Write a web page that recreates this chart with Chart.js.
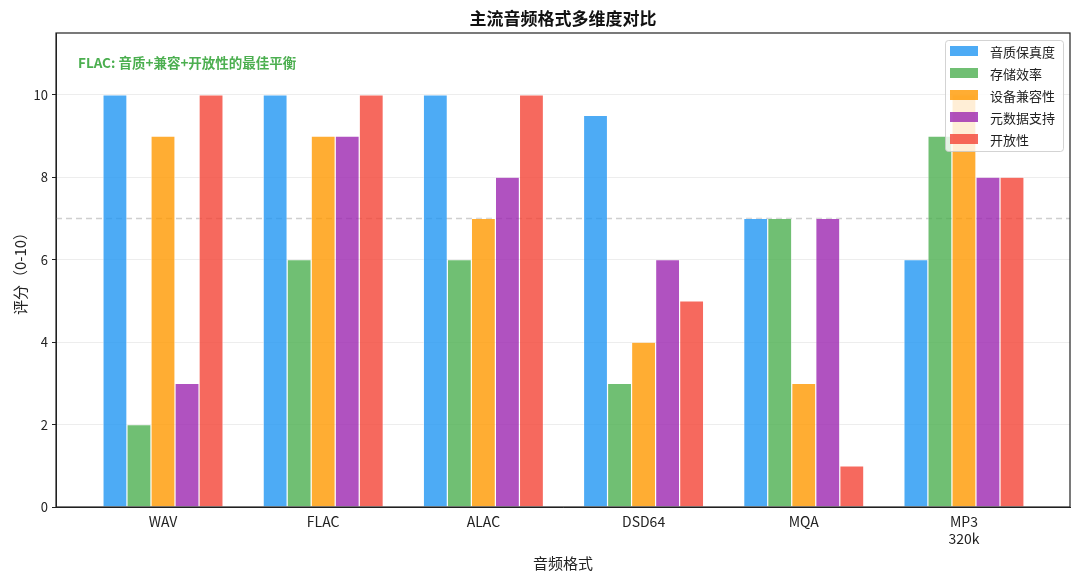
<!DOCTYPE html>
<html>
<head>
<meta charset="utf-8">
<script src="https://cdn.jsdelivr.net/npm/chart.js@4/dist/chart.umd.min.js"></script>
<style>
  html, body { margin: 0; padding: 0; background: #fff; }
  #wrap { width: 1080px; height: 582px; }
</style>
</head>
<body>
<div id="wrap"><canvas id="chart"></canvas></div>
<script>
// Data
const formats = ['WAV', 'FLAC', 'ALAC', 'DSD64', 'MQA', ['MP3', '320k']];
const seriesNames = ['音质保真度', '存储效率', '设备兼容性', '元数据支持', '开放性'];
const fidelity = [10, 10, 10, 9.5, 7, 6];
const storage = [2, 6, 6, 3, 7, 9];
const compat = [9, 9, 7, 4, 3, 10];
const metadata = [3, 9, 8, 6, 7, 8];
const openness = [10, 10, 10, 5, 1, 8];
const yTicks = [0, 2, 4, 6, 8, 10];
const refLine = 7;
const note = 'FLAC: 音质+兼容+开放性的最佳平衡';

const colors = ['rgba(33,150,243,0.8)', 'rgba(76,175,80,0.8)', 'rgba(255,152,0,0.8)',
                'rgba(156,39,176,0.8)', 'rgba(244,67,54,0.8)'];
const FONT = '"Noto Sans CJK SC", "Noto Sans", sans-serif';

const allSeries = [fidelity, storage, compat, metadata, openness];
const datasets = allSeries.map((vals, i) => ({
  label: seriesNames[i],
  data: vals.map((v, j) => ({ x: j, y: v })),
  backgroundColor: colors[i],
  borderColor: 'rgba(255,255,255,0.8)',
  borderWidth: 0.6,
  borderSkipped: 'bottom',
  categoryPercentage: 0.75,
  barPercentage: 1.0
}));

// frame, reference line, note, legend
const extras = {
  id: 'extras',
  beforeDatasetsDraw(chart) {
    const { ctx, chartArea: a, scales: { y } } = chart;
    const py = y.getPixelForValue(refLine);
    ctx.save();
    ctx.strokeStyle = 'rgba(160,160,160,0.5)';
    ctx.lineWidth = 1.5;
    ctx.setLineDash([6, 4]);
    ctx.beginPath();
    ctx.moveTo(a.left, py);
    ctx.lineTo(a.right, py);
    ctx.stroke();
    ctx.restore();
  },
  afterDraw(chart) {
    const { ctx, chartArea: a } = chart;
    ctx.save();
    // frame
    ctx.strokeStyle = '#222';
    ctx.lineWidth = 1.2;
    ctx.strokeRect(a.left, a.top, a.right - a.left, a.bottom - a.top);
    // title
    ctx.fillStyle = '#111';
    ctx.font = 'bold 17px ' + FONT;
    ctx.textAlign = 'center';
    ctx.textBaseline = 'middle';
    ctx.fillText('主流音频格式多维度对比', (a.left + a.right) / 2, 19);
    // note
    ctx.fillStyle = '#4CAF50';
    ctx.font = 'bold 13.5px ' + FONT;
    ctx.textAlign = 'left';
    ctx.fillText(note, a.left + 22, 63);
    // legend
    const lx = a.right - 125, ly = a.top + 7, lw = 118, lh = 111;
    ctx.fillStyle = 'rgba(255,255,255,0.8)';
    ctx.strokeStyle = 'rgba(200,200,200,0.8)';
    ctx.lineWidth = 1;
    ctx.beginPath();
    ctx.roundRect(lx + 0.5, ly + 0.5, lw, lh, 3);
    ctx.fill();
    ctx.stroke();
    ctx.font = '13px ' + FONT;
    seriesNames.forEach((name, i) => {
      const ry = ly + 11 + i * 22;
      ctx.fillStyle = colors[i];
      ctx.fillRect(lx + 5, ry - 5, 28, 10);
      ctx.fillStyle = '#222';
      ctx.fillText(name, lx + 45, ry + 1);
    });
    ctx.restore();
  }
};

new Chart(document.getElementById('chart'), {
  type: 'bar',
  data: { datasets },
  options: {
    responsive: true,
    maintainAspectRatio: false,
    animation: false,
    layout: { padding: { top: 33, right: 10, left: 0, bottom: 0 } },
    plugins: { legend: { display: false }, tooltip: { enabled: false } },
    scales: {
      x: {
        type: 'linear',
        min: -0.668,
        max: 5.662,
        offset: false,
        afterBuildTicks: s => { s.ticks = formats.map((f, i) => ({ value: i })); },
        afterFit: s => { s.height = 75; },
        ticks: {
          autoSkip: false,
          maxRotation: 0,
          color: '#222',
          font: { family: FONT, size: 14 },
          padding: 2,
          callback: v => formats[v]
        },
        grid: { display: false, drawOnChartArea: false, drawTicks: true, tickLength: 4, tickColor: '#222' },
        border: { display: true, color: '#222' },
        title: { display: true, text: '音频格式', color: '#222', font: { family: FONT, size: 15 }, padding: { top: 4, bottom: 10 } }
      },
      y: {
        min: 0,
        max: 11.5,
        afterBuildTicks: s => { s.ticks = yTicks.map(v => ({ value: v })); },
        afterFit: s => { s.width = 56; },
        ticks: { color: '#222', font: { family: FONT, size: 13 }, padding: 4 },
        grid: { color: 'rgba(0,0,0,0.07)', tickColor: '#222', tickLength: 4 },
        border: { display: true, color: '#222' },
        title: { display: true, text: '评分（0-10）', color: '#222', font: { family: FONT, size: 15 }, padding: { top: 11, bottom: 2 } }
      }
    }
  },
  plugins: [extras]
});
</script>
</body>
</html>
